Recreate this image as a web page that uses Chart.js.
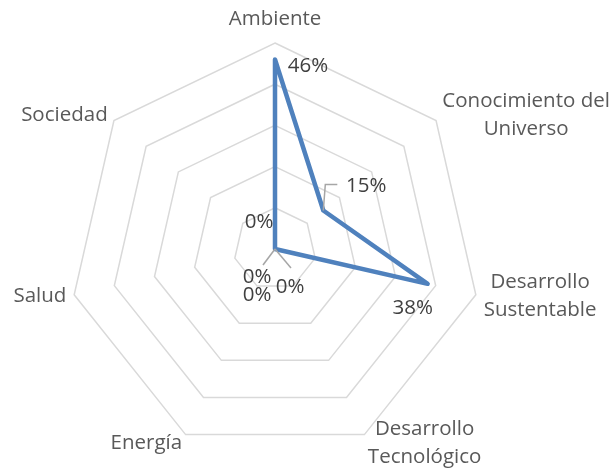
<!DOCTYPE html>
<html>
<head>
<meta charset="utf-8">
<script src="https://cdn.jsdelivr.net/npm/chart.js@4/dist/chart.umd.min.js"></script>
<style>
  html, body { margin: 0; padding: 0; background: #fff; }
  #wrap { width: 614px; height: 470px; position: relative; }
</style>
</head>
<body>
<div id="wrap"><canvas id="radar"></canvas></div>
<script>
// Categorías (ejes del radar)
const categorias = [
    ['Ambiente'],
    ['Conocimiento del', 'Universo'],
    ['Desarrollo', 'Sustentable'],
    ['Desarrollo', 'Tecnológico'],
    ['Energía'],
    ['Salud'],
    ['Sociedad']
];

// Porcentajes por categoría
const valores = [46, 15, 38, 0, 0, 0, 0];

// Escala radial
const escalaMin = 0;
const escalaMax = 50;
const escalaPaso = 10;

// Desplazamiento de las etiquetas de datos respecto al punto (estilo)
const offsetsEtiquetas = [
    { dx: 33, dy: 7 },
    { dx: 43, dy: -24, leader: [[2, -26], [14, -26]] },
    { dx: -15, dy: 24 },
    { dx: 15, dy: 38, leader: [[16, 19]] },
    { dx: -18, dy: 46 },
    { dx: -18, dy: 28, leader: [[-12, 16]] },
    { dx: -16, dy: -27 }
];

const FUENTE = '20.5px "Open Sans", Lato, sans-serif';

// Dibuja las etiquetas de categoría y de datos
const etiquetasPlugin = {
    id: 'etiquetas',
    afterDatasetsDraw(chart) {
        const ctx = chart.ctx;
        const scale = chart.scales.r;
        const R = scale.drawingArea;
        ctx.save();
        ctx.font = FUENTE;
        ctx.textBaseline = 'middle';
        ctx.textAlign = 'center';

        // Etiquetas de categorías
        const lineH = 28;
        categorias.forEach((lineas, i) => {
            const p = scale.getPointPosition(i, R + 8);
            const ang = (i / categorias.length) * Math.PI * 2;
            const s = Math.sin(ang), c = Math.cos(ang);
            const w = Math.max(...lineas.map(t => ctx.measureText(t).width));
            const h = lineas.length * lineH;
            let cx = p.x, cy = p.y;
            if (s > 0.1) cx = p.x + w / 2;
            else if (s < -0.1) cx = p.x - w / 2;
            if (c > 0.95) cy = p.y - h / 2 - 2;
            else if (c < -0.8) cy = p.y + 1;
            ctx.fillStyle = '#595959';
            lineas.forEach((t, k) => {
                ctx.fillText(t, cx, cy - h / 2 + lineH * (k + 0.5));
            });
        });

        // Etiquetas de datos
        const meta = chart.getDatasetMeta(0);
        meta.data.forEach((pt, i) => {
            const o = offsetsEtiquetas[i];
            if (o.leader) {
                ctx.strokeStyle = '#a6a6a6';
                ctx.lineWidth = 1.5;
                ctx.beginPath();
                ctx.moveTo(pt.x, pt.y);
                o.leader.forEach(l => ctx.lineTo(pt.x + l[0], pt.y + l[1]));
                ctx.stroke();
            }
            ctx.fillStyle = '#404040';
            ctx.fillText(valores[i] + '%', pt.x + o.dx, pt.y + o.dy);
        });
        ctx.restore();
    }
};

new Chart(document.getElementById('radar'), {
    type: 'radar',
    data: {
        labels: categorias,
        datasets: [{
            data: valores,
            borderColor: '#4f81bd',
            borderWidth: 4.5,
            borderJoinStyle: 'round',
            fill: false,
            pointRadius: 0,
            pointHoverRadius: 0,
            tension: 0
        }]
    },
    options: {
        responsive: true,
        maintainAspectRatio: false,
        animation: false,
        layout: {
            padding: { left: 69, right: 133, top: 43, bottom: 15 }
        },
        plugins: {
            legend: { display: false },
            tooltip: { enabled: false }
        },
        scales: {
            r: {
                min: escalaMin,
                max: escalaMax,
                ticks: { stepSize: escalaPaso, display: false },
                grid: { color: '#d9d9d9', lineWidth: 1.5 },
                angleLines: { display: false },
                pointLabels: { display: false }
            }
        }
    },
    plugins: [etiquetasPlugin]
});
</script>
</body>
</html>
